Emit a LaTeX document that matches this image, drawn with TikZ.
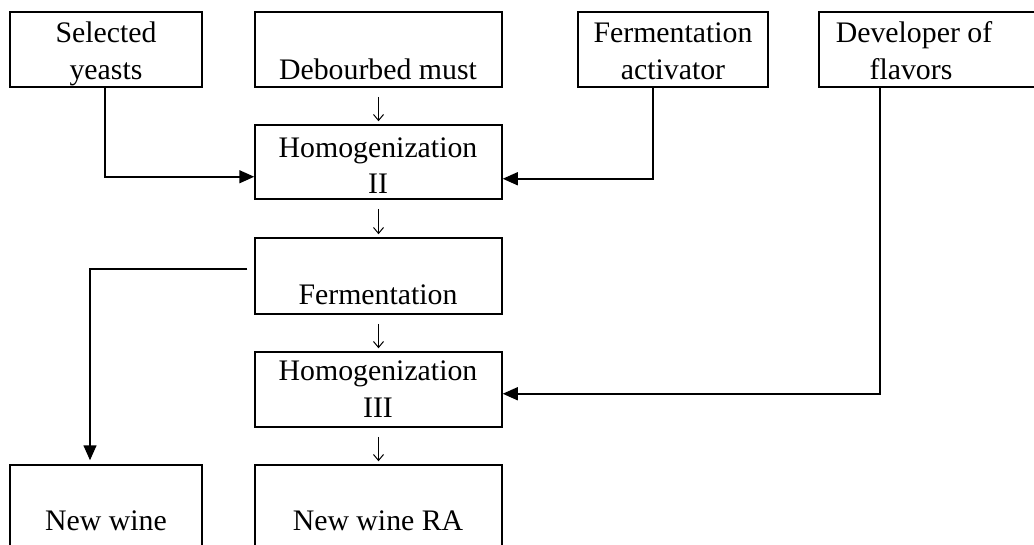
\documentclass[tikz,border=0pt]{standalone}
\usepackage{fontspec}
\setmainfont{Liberation Serif}
\usetikzlibrary{arrows.meta,calc}
\begin{document}
\begin{tikzpicture}[x=1pt,y=-1pt,
  box/.style={draw,line width=1.5pt,inner sep=0pt,minimum width=#1},
  box/.default=247pt,
  txt/.style={inner sep=0pt,anchor=base,font=\fontsize{29.8}{37}\selectfont},
  conn/.style={line width=1.5pt,-{Triangle[length=15pt,width=13pt]}},
  small/.style={line width=1pt,-{Straight Barb[length=6pt,width=10pt]},shorten <=9pt,shorten >=3pt}]
\useasboundingbox (0,0) rectangle (1034,544);
\fill[white] (0,0) rectangle (1034,544);
\clip (0,0) rectangle (1034,544);
% boxes
\node[box=192pt,minimum height=75pt] (sy) at (106,49.5) {};
\node[box,minimum height=75pt] (dm) at (378.5,49.5) {};
\node[box=190pt,minimum height=75pt] (fa) at (673,49.5) {};
\node[box=226pt,minimum height=75pt] (df) at (932,49.5) {};
\node[box,minimum height=74pt] (h2) at (378.5,162) {};
\node[box,minimum height=76pt] (fe) at (378.5,276) {};
\node[box,minimum height=75pt] (h3) at (378.5,389.5) {};
\node[box=192pt,minimum height=95pt] (nw) at (106,512.5) {};
\node[box,minimum height=95pt] (nra) at (378.5,512.5) {};
% texts
\node[txt] (sy1) at (106,42) {Selected};
\node[txt] (sy2) at (106,79) {yeasts};
\node[txt] (dm1) at (378,79) {Debourbed must};
\node[txt] (fa1) at (673,42) {Fermentation};
\node[txt] (fa2) at (673,79) {activator};
\node[txt] (df1) at (914,42) {Developer of};
\node[txt] (df2) at (911,79) {flavors};
\node[txt] (h21) at (378,157) {Homogenization};
\node[txt] (h22) at (378,193) {II};
\node[txt] (fe1) at (378,304) {Fermentation};
\node[txt] (h31) at (378,380) {Homogenization};
\node[txt] (h32) at (378,417) {III};
\node[txt] (nw1) at (106,530) {New wine};
\node[txt] (nra1) at (378,530) {New wine RA};
% small down arrows
\draw[small] (dm.south) -- (h2.north);
\draw[small] (h2.south) -- (fe.north);
\draw[small] (fe.south) -- (h3.north);
\draw[small] (h3.south) -- (nra.north);
% connectors
\draw[conn] ([xshift=-1pt]sy.south) |- ([yshift=23pt]h2.south west);
\draw[conn] ([xshift=-20pt]fa.south) |- ([yshift=21pt]h2.south east);
\draw[conn] ([xshift=-52pt]df.south) |- ([yshift=34pt]h3.south east);
\draw[conn,shorten >=4pt] ([xshift=-7pt,yshift=7pt]fe.west) -| ([xshift=-16pt]nw.north);
\end{tikzpicture}
\end{document}
